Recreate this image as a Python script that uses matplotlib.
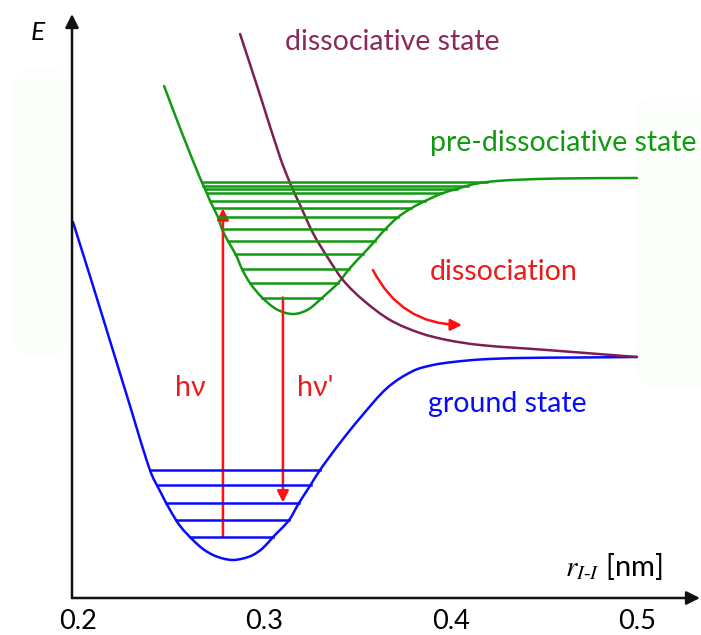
import numpy as np
import matplotlib.pyplot as plt
from matplotlib.patches import FancyBboxPatch, FancyArrowPatch, PathPatch
from matplotlib.path import Path

plt.rcParams['font.family'] = ['Lato', 'DejaVu Sans']

# potential curves: internuclear distance r [nm] vs energy (arb. units)
r_ground = [0.1973, 0.2081, 0.2172, 0.2263, 0.2386, 0.2440, 0.2494, 0.2548, 0.2617,
            0.2671, 0.2725, 0.2778, 0.2832, 0.2886, 0.2939, 0.2993, 0.3047, 0.3133,
            0.3186, 0.3245, 0.3299, 0.3406, 0.3514, 0.3659, 0.3798, 0.3906, 0.4013,
            0.4158, 0.4373, 0.4695, 0.5000]
e_ground = [3.76, 3.12, 2.57, 2.02, 1.28, 1.07, 0.88, 0.72, 0.58,
            0.49, 0.43, 0.395, 0.38, 0.395, 0.43, 0.50, 0.61, 0.78,
            0.95, 1.12, 1.28, 1.55, 1.80, 2.10, 2.27, 2.33, 2.36,
            2.385, 2.40, 2.405, 2.41]

r_pre = [0.2462, 0.2558, 0.2655, 0.2682, 0.2709, 0.2751,
         0.2773, 0.2805, 0.2848, 0.2880, 0.2923, 0.2988, 0.3068, 0.3154, 0.3235,
         0.3315, 0.3396, 0.3460, 0.3530, 0.3594, 0.3640, 0.3712, 0.3782, 0.3852,
         0.3959, 0.4034, 0.4104, 0.4195, 0.4335, 0.4587, 0.5000]
e_pre = [5.12, 4.65, 4.20, 4.09, 3.97, 3.81,
         3.69, 3.57, 3.43, 3.29, 3.15, 3.005, 2.885, 2.84, 2.885,
         3.01, 3.15, 3.30, 3.44, 3.57, 3.67, 3.80, 3.89, 3.96,
         4.05, 4.09, 4.13, 4.16, 4.18, 4.195, 4.20]

r_diss = [0.2870, 0.2977, 0.3084, 0.3138, 0.3192, 0.3261, 0.3342, 0.3422, 0.3530,
          0.3675, 0.3836, 0.3981, 0.4158, 0.4517, 0.5000]
e_diss = [5.64, 5.03, 4.41, 4.15, 3.93, 3.65, 3.40, 3.18, 2.98,
          2.78, 2.65, 2.58, 2.53, 2.48, 2.41]

# vibrational levels
ground_levels = [1.28, 1.13, 0.955, 0.78, 0.61]
pre_levels = [4.16, 4.125, 4.09, 4.047, 3.97, 3.897, 3.807, 3.69, 3.57,
              3.44, 3.29, 3.147, 3.005]

# transitions
r_absorb = 0.2778
r_emit = 0.3100

xticks = [0.2, 0.3, 0.4, 0.5]

BLUE = '#0a0aff'
GREEN = '#119a11'
PURPLE = '#7d1f52'
RED = '#ff1010'
RED_TEXT = '#ea1b1b'


def level_ends(r, e, level):
    r = np.asarray(r)
    e = np.asarray(e)
    i = np.argmin(e)
    left = np.interp(level, e[:i + 1][::-1], r[:i + 1][::-1])
    right = np.interp(level, e[i:], r[i:])
    return left, right


def smooth_path(r, e):
    # cubic bezier through the points, tangents from chord-length differences
    p = np.column_stack([r, e]).astype(float)
    q = p * [18630, 100]
    t = np.concatenate([[0], np.cumsum(np.hypot(*np.diff(q, axis=0).T))])
    m = np.zeros_like(p)
    m[1:-1] = (p[2:] - p[:-2]) / (t[2:] - t[:-2])[:, None]
    m[0] = (p[1] - p[0]) / (t[1] - t[0])
    m[-1] = (p[-1] - p[-2]) / (t[-1] - t[-2])
    verts = [p[0]]
    codes = [Path.MOVETO]
    for i in range(len(p) - 1):
        h = t[i + 1] - t[i]
        verts += [p[i] + m[i] * h / 3, p[i + 1] - m[i + 1] * h / 3, p[i + 1]]
        codes += [Path.CURVE4] * 3
    return Path(verts, codes)


fig = plt.figure(figsize=(7.01, 6.35), dpi=100)

# faint panels behind the drawing
for x0, y0, w, h in [(0.019, 0.441, 0.077, 0.450), (0.909, 0.391, 0.12, 0.455)]:
    fig.patches.append(FancyBboxPatch((x0, y0), w, h, boxstyle='round,pad=0,rounding_size=0.02',
                                      transform=fig.transFigure, facecolor='#fbfefb',
                                      edgecolor='none', zorder=-5))

ax = fig.add_axes([72 / 701, 37 / 635, 628 / 701, 584 / 635])
ax.patch.set_alpha(0)
ax.set_xlim(0.19678, 0.53387)
ax.set_ylim(0, 5.84)
for s in ax.spines.values():
    s.set_visible(False)
ax.set_yticks([])
ax.set_xticks(xticks, [f'{t:.1f}' for t in xticks], fontsize=19.5)
ax.tick_params(axis='x', length=0, pad=8)

# axes with arrowheads
arrow_kw = dict(arrowstyle='-|>', lw=1.8, color='#111111', mutation_scale=20, shrinkA=0, shrinkB=0)
ax.annotate('', xy=(1, 0), xytext=(0, 0), xycoords='axes fraction', arrowprops=arrow_kw)
ax.annotate('', xy=(0, 1), xytext=(0, 0), xycoords='axes fraction', arrowprops=arrow_kw)

for lv in ground_levels:
    a, b = level_ends(r_ground, e_ground, lv)
    ax.plot([a, b], [lv, lv], color=BLUE, lw=1.8)
for lv in pre_levels:
    a, b = level_ends(r_pre, e_pre, lv)
    ax.plot([a, b], [lv, lv], color=GREEN, lw=1.8)

for r, e, c in [(r_ground, e_ground, BLUE), (r_pre, e_pre, GREEN), (r_diss, e_diss, PURPLE)]:
    ax.add_patch(PathPatch(smooth_path(r, e), fill=False, edgecolor=c, lw=1.8,
                           capstyle='round', clip_on=False))

# absorption and emission
ax.add_patch(FancyArrowPatch((r_absorb, ground_levels[-1]), (r_absorb, pre_levels[5]),
                             arrowstyle='-|>', mutation_scale=17, lw=1.8, color=RED,
                             shrinkA=0, shrinkB=0))
ax.add_patch(FancyArrowPatch((r_emit, pre_levels[-1]), (r_emit, ground_levels[2]),
                             arrowstyle='-|>', mutation_scale=17, lw=1.8, color=RED,
                             shrinkA=0, shrinkB=0))
ax.add_patch(FancyArrowPatch((0.3583, 3.28), (0.4061, 2.73), connectionstyle='arc3,rad=0.3',
                             arrowstyle='-|>', mutation_scale=17, lw=1.8, color=RED,
                             shrinkA=0, shrinkB=0))

fs = 20.5
ax.text(0.3111, 5.56, 'dissociative state', color='#8a2a5c', fontsize=fs, va='center')
ax.text(0.3889, 4.55, 'pre-dissociative state', color=GREEN, fontsize=fs, va='center')
ax.text(0.3889, 3.26, 'dissociation', color=RED_TEXT, fontsize=fs, va='center')
ax.text(0.3879, 1.94, 'ground state', color=BLUE, fontsize=fs, va='center')
ax.text(0.2601, 2.10, 'h\u03bd', color=RED_TEXT, fontsize=fs, va='center', ha='center')
ax.text(0.3176, 2.10, "h\u03bd'", color=RED_TEXT, fontsize=fs, va='center')
ax.text(0.1785, 5.66, 'E', style='italic', fontsize=19, va='center', ha='center')
ax.text(0.4614, 0.32, r'$r_{I\text{-}I}$ [nm]', fontsize=21, va='center',
        math_fontfamily='stix')

fig.savefig('out.png', dpi=100)
